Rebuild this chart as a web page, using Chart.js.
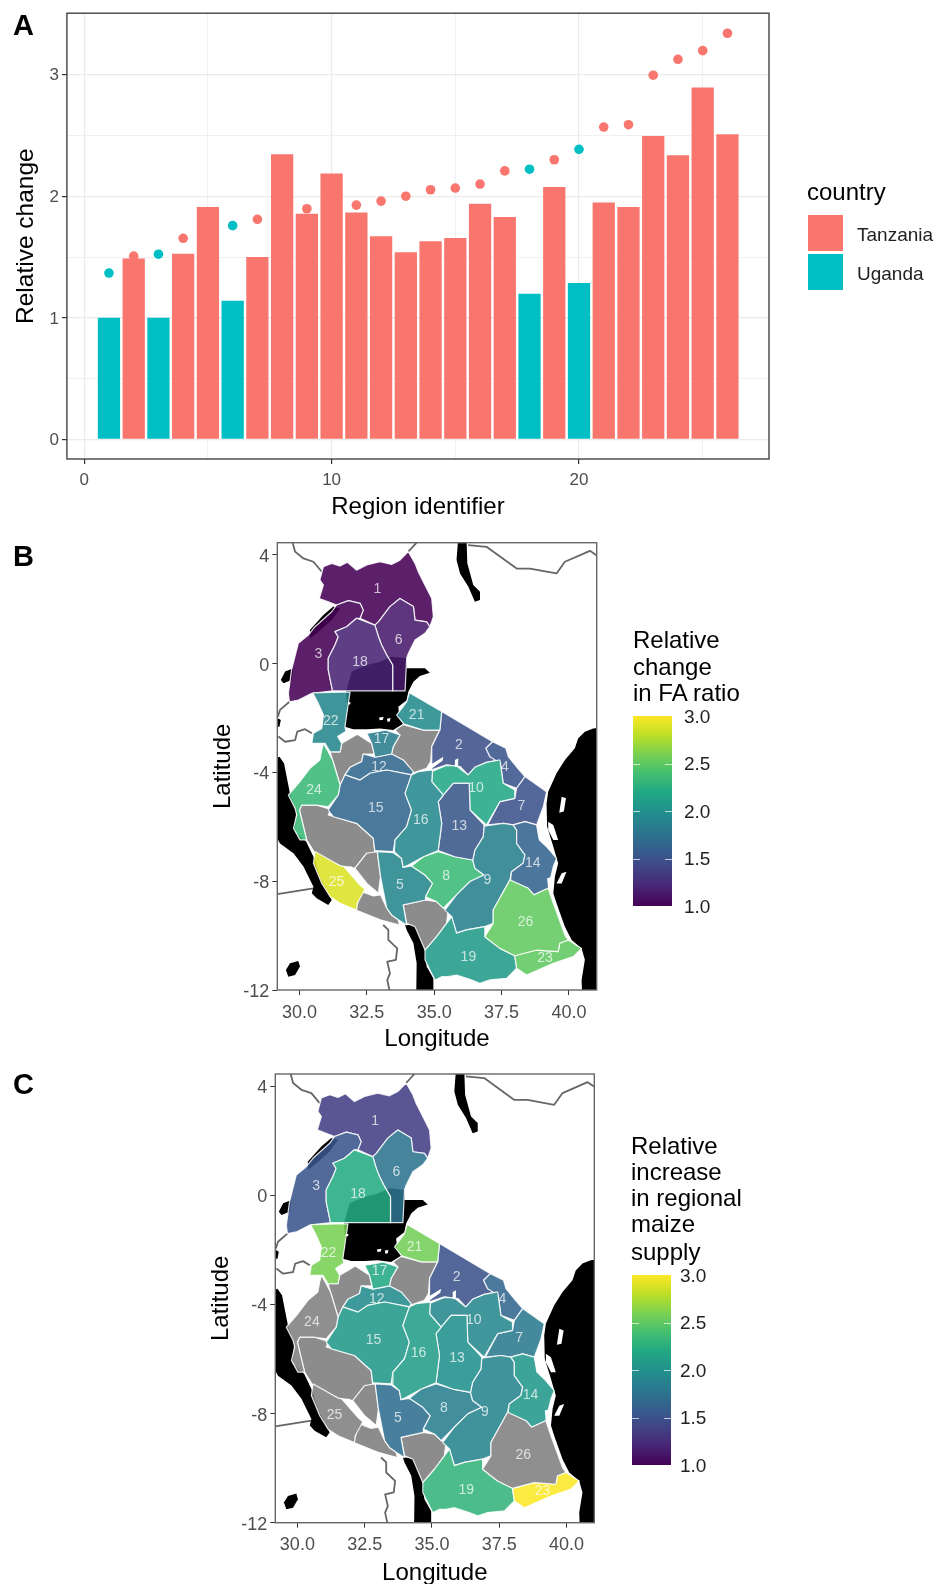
<!DOCTYPE html>
<html>
<head>
<meta charset="utf-8">
<script src="https://cdn.jsdelivr.net/npm/chart.js@4"></script>
<style>
html, body { margin: 0; background: #fff; }
body { position: relative; width: 936px; height: 1584px; overflow: hidden; font-family: "Liberation Sans", Arial, sans-serif; color: #000; }
canvas { position: absolute; left: 0; }
.txt { position: absolute; white-space: nowrap; line-height: 1; }
.letter { font-weight: bold; font-size: 29px; left: 13px; }
.head { font-size: 24px; }
.tick { font-size: 19px; color: #222; }
.key { position: absolute; width: 35px; }
.bar { position: absolute; width: 39px; }
.mark { position: absolute; width: 7px; height: 1px; background: rgba(255,255,255,.7); }
</style>
</head>
<body>
<canvas id="panelA" width="936" height="525" style="top:0"></canvas>
<canvas id="panelB" width="936" height="530" style="top:525px"></canvas>
<canvas id="panelC" width="936" height="530" style="top:1059px"></canvas>
<div id="extras"></div>
<script>
// panel A values
const regionIds = [1,2,3,4,5,6,7,8,9,10,11,12,13,14,15,16,17,18,19,20,21,22,23,24,25,26];
const countries = ['U','T','U','T','T','U','T','T','T','T','T','T','T','T','T','T','T','U','T','U','T','T','T','T','T','T'];
const faRatio = [1.0,1.488,1.0,1.526,1.911,1.141,1.50,2.345,1.856,2.187,1.867,1.671,1.54,1.63,1.657,1.938,1.829,1.198,2.075,1.286,1.949,1.911,2.495,2.337,2.894,2.509];
const maizeSupply = [1.368,1.507,1.523,1.654,1.71,1.758,1.81,1.85,1.897,1.92,1.927,1.96,2.0,2.053,2.067,2.10,2.208,2.222,2.30,2.386,2.569,2.588,2.995,3.126,3.197,3.34];

const xTicksA = [0,5,10,15,20,25];
const xLabelsA = [0,10,20];
const yTicksA = [0,0.5,1,1.5,2,2.5,3];
const yLabelsA = [0,1,2,3];
const lonTicks = [30,32.5,35,37.5,40];
const latTicks = [4,0,-4,-8,-12];

// region outlines, [longitude, latitude]
const r1 = [[34.04,4.12],[34.29,3.69],[34.41,3.38],[34.66,2.89],[34.91,2.40],[34.97,1.73],[34.84,1.36],[34.72,1.54],[34.29,1.60],[34.23,2.10],[33.73,2.40],[33.36,2.10],[32.93,1.54],[32.80,1.42],[32.25,1.67],[32.37,1.97],[32.25,2.22],[31.82,2.32],[31.38,2.16],[31.07,2.28],[30.74,2.40],[30.89,2.89],[30.76,3.08],[30.89,3.57],[31.20,3.69],[31.51,3.59],[31.78,3.73],[32.12,3.44],[32.50,3.63],[32.99,3.75],[33.42,3.65],[33.73,3.81]];
const r2 = [[35.28,-1.76],[37.17,-2.87],[36.92,-3.11],[37.07,-3.42],[37.44,-3.54],[36.94,-3.63],[36.51,-3.81],[36.26,-4.09],[35.96,-3.78],[35.46,-3.72],[34.91,-3.90],[34.91,-3.05],[35.21,-2.44]];
const r3 = [[31.38,2.16],[31.82,2.32],[32.25,2.22],[32.37,1.97],[32.25,1.67],[32.12,1.67],[31.75,1.36],[31.32,1.18],[31.44,0.99],[31.32,0.69],[31.07,0.20],[31.07,-0.23],[31.23,-1.00],[30.46,-1.09],[29.96,-1.34],[29.63,-1.40],[29.59,-1.09],[29.71,-0.23],[29.96,0.75],[30.33,1.05],[30.58,1.36],[31.20,1.91]];
const r4 = [[37.17,-2.87],[37.66,-3.11],[37.75,-3.42],[38.12,-3.87],[38.37,-4.15],[38.06,-4.58],[37.56,-4.40],[37.46,-3.66],[37.07,-3.42],[36.92,-3.11]];
const r5 = [[32.89,-6.91],[33.48,-6.95],[33.79,-7.16],[33.85,-7.49],[34.16,-7.44],[34.66,-7.77],[34.94,-8.08],[34.68,-8.57],[34.68,-8.69],[33.85,-8.87],[33.98,-9.61],[33.67,-9.42],[33.42,-9.24],[33.24,-8.99],[33.01,-7.83]];
const r6 = [[33.73,2.40],[34.23,2.10],[34.29,1.60],[34.72,1.54],[34.84,1.36],[34.66,1.12],[34.29,0.87],[34.04,0.37],[33.98,0.20],[33.92,-1.00],[33.46,-1.00],[33.46,-0.05],[33.24,0.32],[33.05,0.69],[32.93,1.00],[32.80,1.42],[32.93,1.54],[33.36,2.10]];
const r7 = [[38.37,-4.15],[39.17,-4.71],[39.05,-5.26],[38.80,-5.93],[38.37,-5.81],[37.93,-5.93],[37.56,-5.87],[36.98,-5.93],[37.44,-5.07],[37.99,-4.95],[38.06,-4.58]];
const r8 = [[35.15,-6.91],[35.77,-7.10],[36.43,-7.22],[36.51,-7.52],[36.85,-7.77],[36.33,-8.01],[35.83,-8.50],[35.34,-8.99],[35.09,-8.75],[34.68,-8.57],[34.94,-8.08],[34.66,-7.77],[34.16,-7.44],[34.60,-7.10]];
const r9 = [[36.85,-5.97],[37.56,-5.87],[37.93,-5.93],[38.06,-6.12],[38.06,-6.61],[38.37,-7.03],[38.30,-7.34],[37.87,-7.65],[37.81,-7.95],[37.19,-9.06],[37.19,-9.55],[36.88,-9.67],[36.20,-9.79],[35.83,-9.91],[35.65,-9.30],[35.40,-9.06],[35.83,-8.50],[36.33,-8.01],[36.85,-7.77],[36.51,-7.52],[36.43,-7.22],[36.51,-6.85],[36.82,-6.36]];
const r10 = [[37.44,-3.54],[37.56,-4.40],[37.99,-4.64],[37.99,-4.95],[37.44,-5.07],[36.94,-5.93],[36.33,-5.38],[36.30,-4.40],[35.71,-4.40],[35.34,-4.83],[34.91,-4.34],[34.94,-3.95],[35.46,-3.74],[35.83,-3.76],[36.26,-4.09],[36.51,-3.81],[36.94,-3.63]];
const r12 = [[32.37,-3.32],[32.80,-3.44],[33.42,-3.32],[33.85,-3.54],[34.23,-3.97],[34.16,-4.09],[33.24,-3.91],[32.62,-4.03],[32.25,-4.28],[31.69,-4.09],[31.88,-3.81],[32.31,-3.60]];
const r13 = [[35.71,-4.40],[36.30,-4.40],[36.33,-5.38],[36.85,-5.93],[36.82,-6.36],[36.51,-6.85],[36.43,-7.22],[35.77,-7.10],[35.15,-6.87],[35.28,-5.87],[35.15,-5.07],[35.34,-4.83]];
const r14 = [[37.93,-5.93],[38.37,-5.81],[38.80,-5.93],[38.90,-6.48],[39.17,-6.73],[39.54,-7.16],[39.42,-7.46],[39.23,-8.26],[38.70,-8.50],[38.49,-8.26],[37.83,-7.98],[37.87,-7.65],[38.30,-7.34],[38.37,-7.03],[38.06,-6.61],[38.06,-6.12]];
const r15 = [[31.69,-4.09],[32.25,-4.28],[32.62,-4.03],[33.24,-3.91],[34.16,-4.09],[33.92,-4.77],[34.16,-5.38],[33.98,-5.99],[33.55,-6.48],[33.48,-6.91],[32.80,-6.87],[32.74,-6.42],[32.12,-5.87],[31.26,-5.63],[31.07,-5.38],[31.44,-4.83],[31.51,-4.46]];
const r16 = [[34.16,-4.09],[34.41,-3.97],[34.94,-3.91],[34.91,-4.34],[35.34,-4.83],[35.15,-5.07],[35.28,-5.87],[35.15,-6.87],[34.60,-7.10],[34.04,-7.40],[33.85,-7.49],[33.79,-7.16],[33.52,-6.91],[33.55,-6.48],[33.98,-5.99],[34.16,-5.38],[33.92,-4.77]];
const r17 = [[32.50,-2.56],[32.89,-2.50],[33.18,-2.44],[33.73,-2.62],[33.48,-3.05],[33.42,-3.32],[32.80,-3.44],[32.74,-3.17],[32.68,-2.93]];
const r18 = [[32.12,1.67],[32.80,1.42],[32.93,1.00],[33.05,0.69],[33.24,0.32],[33.46,-0.05],[33.46,-1.00],[31.23,-1.00],[31.07,-0.23],[31.07,0.20],[31.32,0.69],[31.44,0.99],[31.32,1.18],[31.75,1.36]];
const r19 = [[35.65,-9.30],[35.83,-9.91],[36.20,-9.79],[36.88,-9.67],[36.88,-10.04],[37.44,-10.47],[37.99,-10.74],[38.06,-11.20],[37.69,-11.57],[37.07,-11.63],[36.70,-11.75],[36.33,-11.61],[35.83,-11.45],[35.52,-11.51],[35.28,-11.51],[35.03,-11.63],[34.84,-11.26],[34.66,-10.89],[34.66,-10.53],[35.09,-10.04],[35.46,-9.55]];
const r21 = [[34.08,-1.07],[35.28,-1.76],[35.21,-2.44],[34.60,-2.44],[33.88,-2.22],[33.61,-1.89],[33.98,-1.40]];
const r22 = [[30.49,-1.07],[31.88,-1.04],[31.78,-1.70],[31.69,-2.32],[31.73,-2.48],[31.42,-2.68],[31.57,-2.93],[31.51,-3.24],[31.14,-3.24],[30.95,-2.93],[30.46,-2.93],[30.52,-2.56],[30.83,-2.38],[30.89,-1.89],[30.70,-1.46]];
const r23 = [[37.99,-10.74],[38.80,-10.53],[39.60,-10.59],[39.66,-10.28],[39.97,-10.16],[40.47,-10.47],[40.16,-10.77],[39.42,-11.02],[38.43,-11.45],[38.06,-11.20]];
const r24 = [[30.89,-2.93],[31.07,-3.24],[31.23,-3.54],[31.51,-4.46],[31.44,-4.83],[31.07,-5.26],[30.64,-5.20],[30.09,-5.20],[30.00,-5.38],[30.27,-6.48],[30.02,-6.48],[29.78,-6.05],[29.90,-5.56],[29.84,-5.32],[29.59,-4.83],[30.02,-4.34],[30.39,-3.85],[30.76,-3.54],[30.83,-3.17]];
const r25 = [[30.58,-6.91],[31.51,-7.43],[31.65,-7.46],[32.25,-8.14],[32.43,-8.30],[32.15,-8.81],[32.12,-9.06],[31.51,-8.81],[31.14,-8.57],[30.83,-8.08],[30.52,-7.34]];
const r26 = [[37.81,-7.95],[38.49,-8.26],[38.70,-8.50],[39.23,-8.26],[39.42,-8.81],[39.60,-9.30],[39.85,-9.98],[39.97,-10.16],[39.66,-10.28],[39.60,-10.59],[38.80,-10.53],[37.99,-10.74],[37.44,-10.47],[36.88,-10.04],[37.19,-9.55],[37.19,-9.06]];

// regions with no value in either panel
const na1 = [[33.85,-8.87],[34.68,-8.69],[35.09,-8.75],[35.34,-8.99],[35.52,-9.06],[35.46,-9.55],[35.09,-10.04],[34.66,-10.53],[34.29,-9.67],[33.98,-9.55]];
const na2 = [[30.09,-5.20],[30.64,-5.20],[31.16,-5.36],[31.07,-5.56],[32.12,-5.87],[32.74,-6.42],[32.80,-6.97],[32.50,-6.97],[32.06,-7.52],[31.51,-7.43],[30.58,-6.97],[30.27,-6.48],[30.00,-5.38]];
const na3 = [[32.50,-6.97],[32.89,-6.91],[33.01,-7.83],[32.93,-8.44],[32.50,-8.08],[32.06,-7.52]];
const na4 = [[32.31,-8.38],[32.74,-8.54],[33.01,-8.50],[33.24,-8.99],[33.42,-9.24],[33.67,-9.42],[33.71,-9.61],[33.00,-9.42],[32.10,-9.06],[32.19,-8.69]];
const na5 = [[31.14,-3.24],[31.51,-3.24],[31.57,-2.93],[31.88,-2.75],[32.15,-2.59],[32.68,-2.93],[32.77,-3.32],[32.37,-3.32],[32.31,-3.60],[31.88,-3.81],[31.69,-4.09],[31.51,-4.46],[31.23,-3.54]];
const na6 = [[33.85,-2.24],[34.60,-2.44],[35.21,-2.44],[34.91,-3.05],[34.87,-3.60],[34.72,-3.85],[34.23,-4.01],[33.85,-3.54],[33.42,-3.32],[33.48,-3.05],[33.73,-2.62],[33.55,-2.44]];

// water drawn black under the regions
const sea = [[41.5,-2.32],[40.90,-2.38],[40.59,-2.50],[40.34,-2.75],[40.22,-3.11],[39.85,-3.54],[39.54,-4.03],[39.23,-4.71],[39.17,-5.14],[39.19,-5.99],[39.42,-6.73],[39.60,-7.34],[39.48,-7.83],[39.42,-8.44],[39.54,-8.81],[39.85,-9.67],[40.10,-10.16],[40.47,-10.47],[40.59,-10.89],[40.47,-11.63],[40.50,-12.5],[41.5,-12.5]];
const tanganyika = [[29.26,-3.42],[29.43,-3.66],[29.65,-4.77],[29.88,-5.44],[29.83,-6.18],[30.25,-6.54],[30.58,-7.22],[30.76,-7.83],[31.20,-8.69],[31.07,-8.87],[30.64,-8.63],[30.46,-8.44],[30.52,-8.20],[30.15,-7.46],[29.78,-6.97],[29.28,-6.61],[29.0,-6.11],[29.0,-3.54]];
const malawi = [[33.92,-9.61],[34.29,-9.61],[34.66,-10.53],[34.72,-11.14],[34.97,-11.57],[34.97,-12.5],[34.33,-12.5],[34.35,-11.02],[34.23,-10.28],[33.98,-9.79]];
const bangweulu = [[29.50,-11.26],[29.65,-11.02],[29.96,-10.93],[30.02,-11.14],[29.84,-11.45],[29.59,-11.51]];
const turkana = [[35.89,4.6],[36.20,4.6],[36.23,3.69],[36.45,2.89],[36.70,2.65],[36.70,2.34],[36.51,2.28],[36.27,2.83],[35.96,3.32],[35.83,3.81]];
const victoria = [[31.73,-1.03],[31.94,-0.29],[32.50,-0.05],[32.99,0.07],[33.42,0.26],[33.98,0.20],[33.98,-0.17],[34.66,-0.17],[34.84,-0.33],[34.47,-0.45],[34.23,-0.66],[34.04,-1.03],[33.98,-1.34],[33.67,-1.58],[33.71,-2.01],[33.85,-2.22],[33.48,-2.44],[32.99,-2.38],[32.50,-2.41],[32.00,-2.41],[31.69,-2.32],[31.78,-1.70]];
const albert = [[30.39,1.24],[30.89,1.79],[31.26,2.10],[31.51,2.03],[31.20,1.61],[30.64,1.12],[30.39,0.93]];
const edward = [[29.31,-0.60],[29.47,-0.29],[29.78,-0.17],[29.71,-0.60],[29.41,-0.72]];
const kivu = [[29.0,-1.89],[29.31,-2.07],[29.26,-2.32],[29.0,-2.32]];

// lakes and islands drawn white on top
const rukwa = [[31.63,-7.46],[31.94,-7.46],[32.50,-8.08],[32.93,-8.44],[32.74,-8.54],[32.25,-8.14]];
const eyasi = [[34.72,-3.81],[35.34,-3.42],[35.31,-3.57],[34.91,-3.85],[34.78,-3.93]];
const manyara = [[35.77,-3.54],[35.89,-3.48],[35.89,-3.79],[35.77,-3.81]];
const pemba = [[39.73,-4.89],[39.89,-4.95],[39.81,-5.44],[39.64,-5.48]];
const zanzibar = [[39.23,-5.81],[39.42,-5.93],[39.60,-6.48],[39.42,-6.48],[39.23,-6.12]];
const mafia = [[39.73,-7.71],[39.91,-7.65],[39.73,-8.08],[39.54,-8.08]];
const rufiji = [[39.19,-7.89],[39.42,-7.83],[39.42,-8.26],[39.23,-8.26]];
const ukerewe1 = [[32.95,-1.98],[33.12,-1.96],[33.10,-2.06],[32.98,-2.08]];
const ukerewe2 = [[33.25,-2.02],[33.38,-2.00],[33.36,-2.12],[33.27,-2.14]];
const ukerewe3 = [[31.80,-1.42],[31.90,-1.42],[31.88,-1.50],[31.80,-1.50]];

// country borders
const border1 = [[29.75,4.45],[29.84,4.12],[30.15,3.87],[30.52,3.75],[30.83,3.38]];
const border2 = [[34.35,4.45],[34.04,4.12]];
const border3 = [[36.26,4.36],[36.94,4.30],[38.06,3.50],[38.55,3.50],[39.54,3.32],[39.85,3.75],[40.78,4.15],[41.02,3.99]];
const border4 = [[29.63,-1.40],[29.28,-1.70],[29.20,-1.95]];
const border5 = [[29.22,-2.68],[29.47,-2.87],[29.84,-2.81],[29.92,-2.50],[30.21,-2.41],[30.46,-2.56]];
const border6 = [[29.18,-8.47],[30.52,-8.26]];
const border7 = [[33.11,-9.61],[33.30,-9.79],[33.30,-10.16],[33.63,-10.47],[33.58,-10.89],[33.26,-10.96],[33.36,-11.39],[33.26,-11.63],[33.34,-12]];

const regionShapes = [r1,r2,r3,r4,r5,r6,r7,r8,r9,r10,null,r12,r13,r14,r15,r16,r17,r18,r19,null,r21,r22,r23,r24,r25,r26];
const naShapes = [na1,na2,na3,na4,na5,na6];
const blackShapes = [sea,tanganyika,malawi,bangweulu,turkana,victoria,albert,edward,kivu];
const whiteShapes = [rukwa,eyasi,manyara,pemba,zanzibar,mafia,rufiji,ukerewe1,ukerewe2,ukerewe3];
const borderLines = [border1,border2,border3,border4,border5,border6,border7];

const labelIds = [1,3,6,18,22,21,2,17,12,4,10,24,15,16,13,7,14,9,8,5,25,26,19,23];
const labelLon = [32.89,30.70,33.68,32.25,31.16,34.35,35.92,33.05,32.95,37.62,36.55,30.54,32.83,34.50,35.93,38.24,38.66,36.97,35.44,33.73,31.38,38.39,36.27,39.11];
const labelLat = [2.73,0.35,0.87,0.06,-2.10,-1.89,-3.00,-2.78,-3.79,-3.79,-4.58,-4.64,-5.32,-5.77,-5.96,-5.23,-7.32,-7.95,-7.81,-8.16,-8.04,-9.52,-10.80,-10.83];

const viridis = [[68,1,84],[72,36,117],[65,68,135],[53,95,141],[42,120,142],[33,145,140],[34,168,132],[68,191,112],[122,209,81],[189,223,38],[253,231,37]];
const tanzaniaColor = '#F8766D';
const ugandaColor = '#00BFC4';

function viridisColor(value, alpha) {
    if (value > 3) return `rgba(127,127,127,${alpha})`;
    const pos = (value - 1) / 2 * 10;
    const i = Math.min(Math.floor(pos), 9);
    const f = pos - i;
    const c = viridis[i].map((v, k) => Math.round(v + (viridis[i + 1][k] - v) * f));
    return `rgba(${c[0]},${c[1]},${c[2]},${alpha})`;
}

// Chart.js line datasets have no closed fill, so fill the path of the scaled points
const polygonFill = {
    id: 'polygonFill',
    beforeDatasetDraw(chart, args) {
        const ds = chart.data.datasets[args.index];
        if (!ds.polygonColor) return;
        const a = chart.chartArea;
        const ctx = chart.ctx;
        ctx.save();
        ctx.beginPath();
        ctx.rect(a.left, a.top, a.width, a.height);
        ctx.clip();
        ctx.beginPath();
        args.meta.data.forEach((p, i) => {
            if (i === 0) ctx.moveTo(p.x, p.y);
            else ctx.lineTo(p.x, p.y);
        });
        ctx.closePath();
        ctx.fillStyle = ds.polygonColor;
        ctx.fill();
        ctx.restore();
    }
};

const frame = {
    id: 'frame',
    afterDraw(chart, args, opts) {
        const a = chart.chartArea;
        const ctx = chart.ctx;
        ctx.save();
        ctx.strokeStyle = opts.color;
        ctx.lineWidth = opts.width;
        ctx.strokeRect(a.left, a.top, a.width, a.height);
        ctx.restore();
    }
};

const regionLabels = {
    id: 'regionLabels',
    afterDatasetsDraw(chart) {
        const ctx = chart.ctx;
        ctx.save();
        ctx.font = '14px "Liberation Sans"';
        ctx.fillStyle = 'rgba(255,255,255,0.72)';
        ctx.textAlign = 'center';
        ctx.textBaseline = 'middle';
        labelIds.forEach((id, i) => {
            ctx.fillText(id, chart.scales.x.getPixelForValue(labelLon[i]), chart.scales.y.getPixelForValue(labelLat[i]));
        });
        ctx.restore();
    }
};

function fixTicks(values) {
    return scale => { scale.ticks = values.map(v => ({ value: v })); };
}

function drawPanelA() {
    const colors = countries.map(c => c === 'T' ? tanzaniaColor : ugandaColor);
    const isMajor = (list, ctx) => ctx.tick && list.includes(ctx.tick.value);
    new Chart(document.getElementById('panelA'), {
        data: {
            datasets: [
                {
                    type: 'bar',
                    order: 0,
                    data: regionIds.map((id, i) => ({ x: id, y: faRatio[i] })),
                    backgroundColor: colors,
                    borderWidth: 0,
                    barPercentage: 0.9,
                    categoryPercentage: 1
                },
                {
                    type: 'scatter',
                    order: 1,
                    data: regionIds.map((id, i) => ({ x: id, y: maizeSupply[i] })),
                    backgroundColor: colors,
                    pointRadius: 4.8,
                    borderWidth: 0
                }
            ]
        },
        options: {
            responsive: false,
            animation: false,
            layout: { padding: { left: 11.6, right: 936 - 769, top: 11.5, bottom: 3 } },
            plugins: { legend: { display: false }, tooltip: { enabled: false }, frame: { color: '#444', width: 1.4 } },
            scales: {
                x: {
                    type: 'linear',
                    offset: false,
                    min: -0.7,
                    max: 27.68,
                    afterBuildTicks: fixTicks(xTicksA),
                    afterFit: s => { s.height = 525 - 459 - 3; },
                    border: { display: false },
                    grid: {
                        offset: false,
                        color: '#ebebeb',
                        lineWidth: ctx => isMajor(xLabelsA, ctx) ? 1.2 : 0.7,
                        tickLength: 5,
                        tickColor: ctx => isMajor(xLabelsA, ctx) ? '#333' : 'rgba(0,0,0,0)'
                    },
                    ticks: {
                        autoSkip: false,
                        maxRotation: 0,
                        padding: 6,
                        color: '#4d4d4d',
                        font: { family: 'Liberation Sans', size: 17 },
                        callback: v => xLabelsA.includes(v) ? String(v) : ''
                    },
                    title: { display: true, text: 'Region identifier', color: '#000', padding: 0, font: { family: 'Liberation Sans', size: 24 } }
                },
                y: {
                    type: 'linear',
                    min: -0.161,
                    max: 3.505,
                    afterBuildTicks: fixTicks(yTicksA),
                    afterFit: s => { s.width = 66.9 - 11.6; },
                    border: { display: false },
                    grid: {
                        color: '#ebebeb',
                        lineWidth: ctx => isMajor(yLabelsA, ctx) ? 1.2 : 0.7,
                        tickLength: 5,
                        tickColor: ctx => isMajor(yLabelsA, ctx) ? '#333' : 'rgba(0,0,0,0)'
                    },
                    ticks: {
                        autoSkip: false,
                        padding: 3,
                        labelOffset: 1,
                        color: '#4d4d4d',
                        font: { family: 'Liberation Sans', size: 17 },
                        callback: v => yLabelsA.includes(v) ? String(v) : ''
                    },
                    title: { display: true, text: 'Relative change', color: '#000', padding: 0, font: { family: 'Liberation Sans', size: 24.5 } }
                }
            }
        },
        plugins: [frame]
    });
}

function closedLine(shape) {
    return shape.concat([shape[0]]).map(p => ({ x: p[0], y: p[1] }));
}

function mapDatasets(values) {
    const sets = [];
    const add = (shape, fill, line, width) => {
        sets.push({
            type: 'scatter',
            showLine: true,
            data: fill ? closedLine(shape) : shape.map(p => ({ x: p[0], y: p[1] })),
            polygonColor: fill,
            borderColor: line,
            borderWidth: width,
            borderJoinStyle: 'round',
            pointRadius: 0,
            order: -sets.length
        });
    };
    borderLines.forEach(s => add(s, null, '#666', 1.8));
    blackShapes.forEach(s => add(s, '#000', 'rgba(0,0,0,0)', 0));
    naShapes.forEach(s => add(s, viridisColor(9, 0.9), 'rgba(255,255,255,0.85)', 1.2));
    regionShapes.forEach((s, i) => {
        if (s) add(s, viridisColor(values[i], 0.88), 'rgba(255,255,255,0.85)', 1.2);
    });
    whiteShapes.forEach(s => add(s, '#fff', 'rgba(0,0,0,0)', 0));
    return sets;
}

function drawMap(id, values, canvasTop, box, titleX, bottomPad) {
    new Chart(document.getElementById(id), {
        type: 'scatter',
        data: { datasets: mapDatasets(values) },
        options: {
            responsive: false,
            animation: false,
            layout: { padding: { left: titleX - 14.4, right: 936 - box.right, top: box.top - canvasTop, bottom: bottomPad } },
            plugins: { legend: { display: false }, tooltip: { enabled: false }, frame: { color: '#666', width: 1.4 } },
            scales: {
                x: {
                    type: 'linear',
                    min: 29.18,
                    max: 41.03,
                    afterBuildTicks: fixTicks(lonTicks),
                    afterFit: s => { s.height = canvasTop + 530 - box.bottom - bottomPad; },
                    border: { display: false },
                    grid: { drawOnChartArea: false, tickLength: 5, tickColor: '#333' },
                    ticks: {
                        autoSkip: false,
                        maxRotation: 0,
                        padding: 7,
                        color: '#4d4d4d',
                        font: { family: 'Liberation Sans', size: 18 },
                        callback: v => v.toFixed(1)
                    },
                    title: { display: true, text: 'Longitude', color: '#000', padding: 0, font: { family: 'Liberation Sans', size: 24 } }
                },
                y: {
                    type: 'linear',
                    min: -12,
                    max: 4.45,
                    afterBuildTicks: fixTicks(latTicks),
                    afterFit: s => { s.width = box.left - (titleX - 14.4); },
                    border: { display: false },
                    grid: { drawOnChartArea: false, tickLength: 5, tickColor: '#333' },
                    ticks: {
                        autoSkip: false,
                        padding: 3,
                        labelOffset: 2,
                        color: '#4d4d4d',
                        font: { family: 'Liberation Sans', size: 18 },
                        callback: v => String(v)
                    },
                    title: { display: true, text: 'Latitude', color: '#000', padding: 0, font: { family: 'Liberation Sans', size: 24 } }
                }
            }
        },
        plugins: [polygonFill, regionLabels, frame]
    });
}

// text, legend keys and colour bars around the charts
const extras = document.getElementById('extras');

function addText(cls, text, left, centerY, size) {
    const el = document.createElement('div');
    el.className = 'txt ' + cls;
    el.textContent = text;
    el.style.left = left + 'px';
    el.style.top = (centerY - size / 2) + 'px';
    extras.appendChild(el);
}

function addColorBar(left, top, bottom, tickLeft) {
    const bar = document.createElement('div');
    bar.className = 'bar';
    bar.style.left = left + 'px';
    bar.style.top = top + 'px';
    bar.style.height = (bottom - top) + 'px';
    bar.style.background = 'linear-gradient(to top,' + viridis.map(c => `rgb(${c})`).join(',') + ')';
    extras.appendChild(bar);
    [3, 2.5, 2, 1.5, 1].forEach(v => {
        const y = bottom - (v - 1) / 2 * (bottom - top);
        addText('tick', v.toFixed(1), tickLeft, y, 19);
        if (v === 3 || v === 1) return;
        [left, left + 32].forEach(x => {
            const m = document.createElement('div');
            m.className = 'mark';
            m.style.left = x + 'px';
            m.style.top = y + 'px';
            extras.appendChild(m);
        });
    });
}

function addKey(color, top) {
    const k = document.createElement('div');
    k.className = 'key';
    k.style.cssText = `left:808px;top:${top}px;height:36px;background:${color}`;
    extras.appendChild(k);
}

addText('letter', 'A', 13, 25, 29);
addText('letter', 'B', 13, 556, 29);
addText('letter', 'C', 13, 1084, 29);

addText('head', 'country', 807, 192, 24);
addKey(tanzaniaColor, 215);
addKey(ugandaColor, 254);
addText('tick', 'Tanzania', 857, 234, 19);
addText('tick', 'Uganda', 857, 273, 19);

addText('head', 'Relative', 633, 640, 24);
addText('head', 'change', 633, 666.7, 24);
addText('head', 'in FA ratio', 633, 693, 24);
addColorBar(633, 716, 906, 684);

addText('head', 'Relative', 631, 1145.5, 24);
addText('head', 'increase', 631, 1172, 24);
addText('head', 'in regional', 631, 1198, 24);
addText('head', 'maize', 631, 1224, 24);
addText('head', 'supply', 631, 1251.6, 24);
addColorBar(632, 1275, 1465, 680);

drawPanelA();
drawMap('panelB', faRatio, 525, { left: 277.3, right: 596.7, top: 542.7, bottom: 990 }, 223, 1);
drawMap('panelC', maizeSupply, 1059, { left: 275.3, right: 594.3, top: 1074, bottom: 1522.7 }, 221, 1);
</script>
</body>
</html>
